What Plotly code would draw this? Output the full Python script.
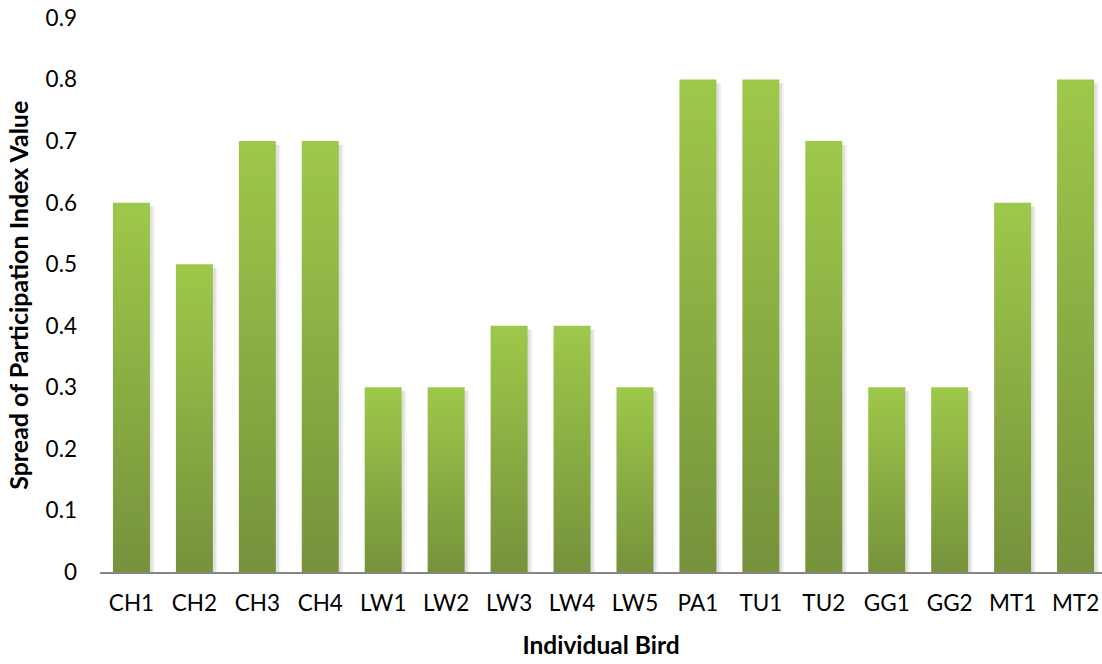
import plotly.graph_objects as go

# Spread of participation index per individual bird
birds = ["CH1", "CH2", "CH3", "CH4", "LW1", "LW2", "LW3", "LW4", "LW5",
         "PA1", "TU1", "TU2", "GG1", "GG2", "MT1", "MT2"]
spread = [0.6, 0.5, 0.7, 0.7, 0.3, 0.3, 0.4, 0.4, 0.3,
          0.8, 0.8, 0.7, 0.3, 0.3, 0.6, 0.8]

y_ticks = [0, 0.1, 0.2, 0.3, 0.4, 0.5, 0.6, 0.7, 0.8, 0.9]

BAR_W = 0.588
FONT = "Lato, 'Open Sans', sans-serif"

fig = go.Figure()

# soft drop shadow behind each column
for i, v in enumerate(spread):
    for dx, alpha in [(0.075, 0.05), (0.045, 0.07)]:
        x0, x1 = i - BAR_W / 2 + dx, i + BAR_W / 2 + dx
        fig.add_trace(go.Scatter(
            x=[x0, x0, x1, x1, x0], y=[0, v - 0.006, v - 0.006, 0, 0],
            mode="lines", line=dict(width=0), fill="toself",
            fillcolor=f"rgba(0,0,0,{alpha})", hoverinfo="skip", showlegend=False,
        ))

# columns with a vertical green gradient (darker at the base)
for i, (name, v) in enumerate(zip(birds, spread)):
    x0, x1 = i - BAR_W / 2, i + BAR_W / 2
    fig.add_trace(go.Scatter(
        x=[x0, x0, x1, x1, x0], y=[0, v, v, 0, 0],
        mode="lines", line=dict(width=0), fill="toself",
        fillgradient=dict(type="vertical",
                          colorscale=[[0, "#76923c"], [1, "#9ec84a"]]),
        name=name, hovertemplate=f"{name}: {v}<extra></extra>", showlegend=False,
    ))

fig.update_layout(
    width=1102, height=664,
    margin=dict(l=100, r=0, t=18, b=92),
    paper_bgcolor="white", plot_bgcolor="white",
    font=dict(family=FONT, size=22.5, color="black"),
    xaxis=dict(
        range=[-0.5, 15.42], tickmode="array",
        tickvals=list(range(len(birds))), ticktext=birds,
        showgrid=False, zeroline=False,
        showline=True, linecolor="#868686", linewidth=2,
        ticks="", ticklabelstandoff=10,
        title=dict(text="<b>Individual Bird</b>", standoff=22,
                   font=dict(family=FONT, size=24.5)),
    ),
    yaxis=dict(
        range=[0, 0.9], tickmode="array", tickvals=y_ticks,
        ticktext=[f"{t:g}" for t in y_ticks],
        showgrid=False, zeroline=False, showline=False,
        ticks="", ticklabelstandoff=22,
    ),
    annotations=[dict(
        text="<b>Spread of Participation Index Value</b>",
        xref="paper", yref="paper", x=-0.082, y=0.5,
        xanchor="center", yanchor="middle", textangle=-90, showarrow=False,
        font=dict(family=FONT, size=25),
    )],
)

fig.write_html("out.html")
